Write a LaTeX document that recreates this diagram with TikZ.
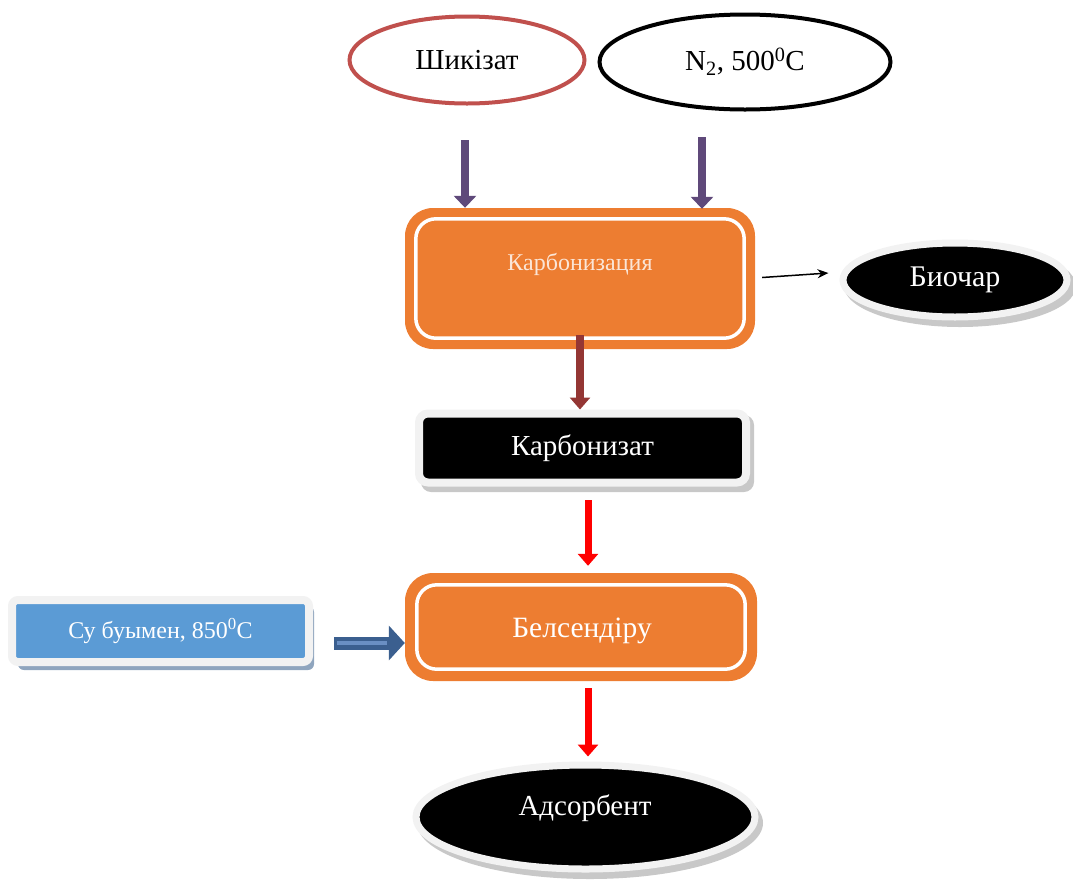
\documentclass[tikz,border=0pt]{standalone}
\usepackage{fontspec}
\setmainfont{Liberation Serif}
\usetikzlibrary{arrows.meta,shapes.geometric}
\definecolor{orng}{HTML}{ED7D31}
\definecolor{redE}{HTML}{C0504D}
\definecolor{purp}{HTML}{5F497A}
\definecolor{brwn}{HTML}{943634}
\definecolor{bluf}{HTML}{5B9BD5}
\definecolor{bluarr}{HTML}{3B5F8F}
\definecolor{bluin}{HTML}{6A8FC3}
\definecolor{rim}{HTML}{F2F2F2}
\definecolor{shad}{HTML}{C8C8C8}
\definecolor{bshad}{HTML}{8FA5BE}
\definecolor{ltxt}{HTML}{FBE5D6}
\tikzset{
  fnt/.style={font=\fontsize{#1}{#1}\selectfont},
  ring/.style={ellipse, line width=4pt, inner sep=0pt},
  obox/.style={rectangle, rounded corners=28pt, fill=orng, inner sep=0pt},
  inline/.style={white, line width=3.5pt, rounded corners=20pt},
  blkell/.style={ellipse, fill=black, draw=rim, line width=7pt, inner sep=0pt},
  shadell/.style={ellipse, fill=shad, inner sep=0pt},
  parr/.style={purp, line width=8pt, -{Triangle[width=22pt,length=12pt]}},
  rarr/.style={red, line width=7pt, -{Triangle[width=20pt,length=12pt]}},
  barr/.style={brwn, line width=8pt, -{Triangle[width=20pt,length=12pt]}},
}
\begin{document}
\begin{tikzpicture}[x=1pt,y=-1pt]
\useasboundingbox (0,0) rectangle (1073,884);
% top ellipses
\node[ring, draw=redE, minimum width=235pt, minimum height=87pt, fnt=29] (shik) at (467,60) {Шикізат};
\node[ring, draw=black, minimum width=291pt, minimum height=95pt, fnt=29] (n2) at (745,62) {N\textsubscript{2}, 500\textsuperscript{0}C};
% carbonization box
\node[obox, minimum width=350pt, minimum height=141pt] (karb) at (580,278.5) {};
\draw[inline] ([shift={(11,11)}]karb.north west) rectangle ([shift={(-11,-11)}]karb.south east);
\node[text=ltxt, fnt=24, inner sep=0pt] (karbt) at (580,264) {Карбонизация};
% arrows from top
\coordinate (a1s) at (465,140);
\coordinate (a2s) at (702,137);
\draw[parr] (a1s) -- (a1s |- karb.north);
\draw[parr] (a2s) -- ([yshift=-1pt]a2s |- karb.north);
% biochar
\node[shadell, minimum width=232pt, minimum height=82pt] (bioshad) at (960,286) {};
\node[blkell, minimum width=224pt, minimum height=74pt, text=white, fnt=30] (bio) at (955,280) {Биочар};
\draw[line width=1.5pt, -{Stealth[length=11pt,width=9pt]}] ([shift={(7,-1)}]karb.east) -- ([shift={(-11,-7)}]bio.west);
% carbonizat
\fill[shad, rounded corners=10pt] (421,415) rectangle (754,492);
\node[rectangle, rounded corners=9pt, fill=black, draw=rim, line width=8pt, minimum width=327pt, minimum height=69pt, inner sep=0pt, text=white, fnt=29] (cz) at (582.5,448) {Карбонизат};
\draw[barr] ([yshift=14pt]karb.south) -- (karb.south |- cz.north);
% activation
\node[obox, minimum width=352pt, minimum height=108pt] (bel) at (581,627) {};
\draw[inline] ([shift={(12,12)}]bel.north west) rectangle ([shift={(-12,-12)}]bel.south east);
\node[text=white, fnt=29.5, inner sep=0pt] (belt) at (582,631) {Белсендіру};
\coordinate (r1s) at (588,500);
\draw[rarr] (r1s) -- ([yshift=7pt]r1s |- bel.north);
% steam box
\fill[bshad, rounded corners=6pt] (18,606) rectangle (314,670);
\node[rectangle, rounded corners=6pt, fill=bluf, draw=rim, line width=8pt, minimum width=297pt, minimum height=62pt, inner sep=0pt, text=white, fnt=24] (su) at (160.5,631) {Су буымен, 850\textsuperscript{0}C};
\draw[bluarr, line width=13pt, -{Triangle[width=34pt,length=16pt]}] ([xshift=21pt]su.east |- 0,643) -- (bel.west |- 0,643);
\draw[bluin, line width=4pt] ([xshift=24pt]su.east |- 0,643) -- ([xshift=-18pt]bel.west |- 0,643);
% adsorbent
\node[shadell, minimum width=346pt, minimum height=112pt] (adshad) at (590,823) {};
\node[blkell, minimum width=339pt, minimum height=104pt] (ads) at (585.5,817) {};
\node[text=white, fnt=29, inner sep=0pt] (adst) at (585,808) {Адсорбент};
\coordinate (r2s) at (588,688);
\draw[rarr] (r2s) -- ([yshift=5pt]r2s |- ads.north);
\end{tikzpicture}
\end{document}
